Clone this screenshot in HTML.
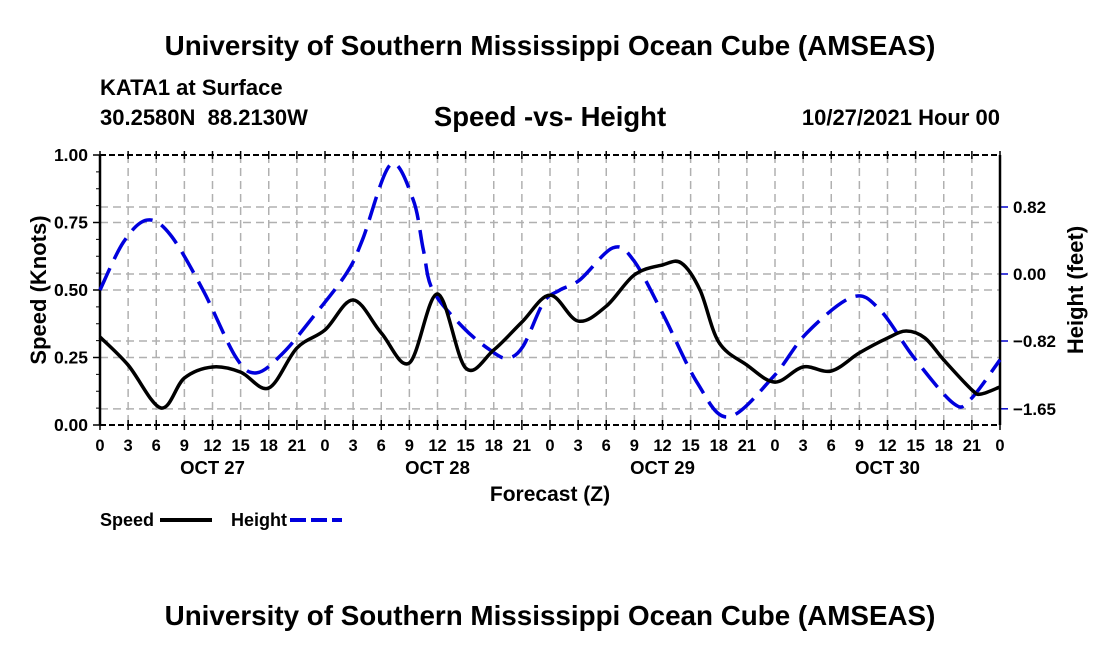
<!DOCTYPE html>
<html><head><meta charset="utf-8"><style>
body{margin:0;background:#fff;width:1100px;height:650px;overflow:hidden}
svg text{font-family:"Liberation Sans",Arial,sans-serif;font-weight:bold;fill:#000}
</style></head><body>
<svg id="chart" width="1100" height="650" viewBox="0 0 1100 650" xmlns="http://www.w3.org/2000/svg">
<text x="550" y="55" text-anchor="middle" font-size="27.8">University of Southern Mississippi Ocean Cube (AMSEAS)</text>
<text x="100" y="95" font-size="22">KATA1 at Surface</text>
<text x="100" y="125" font-size="22" xml:space="preserve">30.2580N  88.2130W</text>
<text x="550" y="126" text-anchor="middle" font-size="27.5">Speed -vs- Height</text>
<text x="1000" y="125" text-anchor="end" font-size="22">10/27/2021 Hour 00</text>
<g id="grid"></g>
<g id="axes"></g>
<g id="series"></g>
<text transform="translate(46,290) rotate(-90)" text-anchor="middle" font-size="22">Speed (Knots)</text>
<text transform="translate(1083,290) rotate(-90)" text-anchor="middle" font-size="22">Height (feet)</text>
<text x="550" y="501" text-anchor="middle" font-size="21">Forecast (Z)</text>
<g>
<text x="100" y="526" font-size="18">Speed</text>
<line x1="160" y1="520" x2="212" y2="520" stroke="#000" stroke-width="4"/>
<text x="231" y="526" font-size="18">Height</text>
<line x1="290" y1="520" x2="342" y2="520" stroke="#0000dd" stroke-width="4" stroke-dasharray="16,5"/>
</g>
<text x="550" y="625" text-anchor="middle" font-size="27.8">University of Southern Mississippi Ocean Cube (AMSEAS)</text>
</svg>
<script>
const speedHours=[0,3,6.5,9,12,15,18,21,24,27,30,33,36,39,42,45,48,51,54,57,60,62,64,66,69,72,75,78,81,84,86,88,90,93,94,96];
const speedValues=[0.326,0.222,0.063,0.174,0.215,0.196,0.137,0.285,0.352,0.463,0.341,0.23,0.485,0.211,0.278,0.381,0.481,0.385,0.44,0.556,0.593,0.6,0.5,0.307,0.222,0.159,0.215,0.2,0.267,0.322,0.348,0.322,0.241,0.13,0.115,0.141];
const heightHours=[0,2.5,5,7.5,11,14.5,16.7,19.5,22.7,26.3,28,31,33.4,34.5,35.5,38.7,41.6,43.4,45.1,47.3,49,51.2,54.7,56.9,60,63.7,67,71.8,75.4,80.3,83.2,86.8,91,92.8,96];
const heightValues=[-0.196,0.39,0.66,0.48,-0.2,-1.02,-1.21,-0.97,-0.53,0.01,0.42,1.34,0.91,0.29,-0.2,-0.65,-0.93,-1.03,-0.89,-0.35,-0.2,-0.07,0.32,0.17,-0.48,-1.33,-1.75,-1.26,-0.72,-0.28,-0.44,-1.02,-1.58,-1.54,-1.05];
const speedTicks=["0.00","0.25","0.50","0.75","1.00"];
const heightTicks=["-1.65","-0.82","0.00","0.82"];
const dayLabels=["OCT 27","OCT 28","OCT 29","OCT 30"];

const X0=100,X1=1000,Y0=425,Y1=155;
const xS=h=>X0+h*(X1-X0)/96;
const yS=v=>Y0-v*(Y0-Y1);
const yH=f=>274-f*(67/0.82);
const NS="http://www.w3.org/2000/svg";
function mk(tag,attrs,parent,txt){const e=document.createElementNS(NS,tag);for(const k in attrs)e.setAttribute(k,attrs[k]);if(txt!==undefined)e.textContent=txt;parent.appendChild(e);return e;}
const grid=document.getElementById('grid'),axes=document.getElementById('axes'),series=document.getElementById('series');
for(let h=0;h<=96;h+=3){
  const x=xS(h);
  if(h>0&&h<96){const g=mk('line',{x1:x,y1:Y1,x2:x,y2:Y0,stroke:'#b0b0b0','stroke-width':1.5,'stroke-dasharray':'8,5'},grid);
  
  }
  const t=mk('line',{x1:x,y1:Y0-5,x2:x,y2:Y0+5,stroke:'#000','stroke-width':1.5},axes);
  
  
  mk('line',{x1:x,y1:Y1-4,x2:x,y2:Y1+4,stroke:'#000','stroke-width':1.5},axes);
  const lab=mk('text',{x:x,y:451,'text-anchor':'middle','font-size':16.5},axes,String(h%24));
  
  
}
dayLabels.forEach((d,i)=>{const t=mk('text',{x:xS(12+24*i),y:474,'text-anchor':'middle','font-size':18.5},axes,d);
  
  });
speedTicks.forEach(s=>{const v=parseFloat(s),y=yS(v);
  if(v>0&&v<1){const g=mk('line',{x1:X0,y1:y,x2:X1,y2:y,stroke:'#b0b0b0','stroke-width':1.5,'stroke-dasharray':'8,5'},grid);
  
  }
  mk('line',{x1:X0-7,y1:y,x2:X0,y2:y,stroke:'#000','stroke-width':1.5},axes);
  const t=mk('text',{x:X0-12,y:y+6,'text-anchor':'end','font-size':17.5},axes,s);
  
  });
for(let v=0.0625;v<1;v+=0.0625){mk('line',{x1:X0-4,y1:yS(v),x2:X0,y2:yS(v),stroke:'#000','stroke-width':1},axes);}
heightTicks.forEach(s=>{const f=parseFloat(s),y=yH(f);
  const g=mk('line',{x1:X0,y1:y,x2:X1,y2:y,stroke:'#b0b0b0','stroke-width':1.5,'stroke-dasharray':'8,5'},grid);
  
  
  mk('line',{x1:X1,y1:y,x2:X1+8,y2:y,stroke:'#0000cc','stroke-width':1.5},axes);
  const t=mk('text',{x:1013,y:y+6,'font-size':17},axes,s.replace('-','\u2212'));
  
  });
mk('line',{x1:X0,y1:Y1,x2:X0,y2:Y0,stroke:'#000','stroke-width':2.5},axes);
mk('line',{x1:X1,y1:Y1,x2:X1,y2:Y0,stroke:'#000','stroke-width':2.5},axes);
mk('line',{x1:X0,y1:Y0,x2:X1,y2:Y0,stroke:'#000','stroke-width':2,'stroke-dasharray':'6,3'},axes);
mk('line',{x1:X0,y1:Y1,x2:X1,y2:Y1,stroke:'#000','stroke-width':2,'stroke-dasharray':'6,3'},axes);
function spline(pts){let d='M'+pts[0][0]+','+pts[0][1];
  for(let i=0;i<pts.length-1;i++){const p0=pts[i-1]||pts[i],p1=pts[i],p2=pts[i+1],p3=pts[i+2]||p2;
    const c1=[p1[0]+(p2[0]-p0[0])/6,p1[1]+(p2[1]-p0[1])/6],c2=[p2[0]-(p3[0]-p1[0])/6,p2[1]-(p3[1]-p1[1])/6];
    d+=` C${c1[0]},${c1[1]} ${c2[0]},${c2[1]} ${p2[0]},${p2[1]}`;}
  return d;}
const hp=mk('path',{d:spline(heightHours.map((h,i)=>[xS(h),yH(heightValues[i])])),fill:'none',stroke:'#0000dd','stroke-width':3.5,'stroke-dasharray':'24,10'},series);


const sp=mk('path',{d:spline(speedHours.map((h,i)=>[xS(h),yS(speedValues[i])])),fill:'none',stroke:'#000','stroke-width':3.5},series);


</script>
</body></html>
